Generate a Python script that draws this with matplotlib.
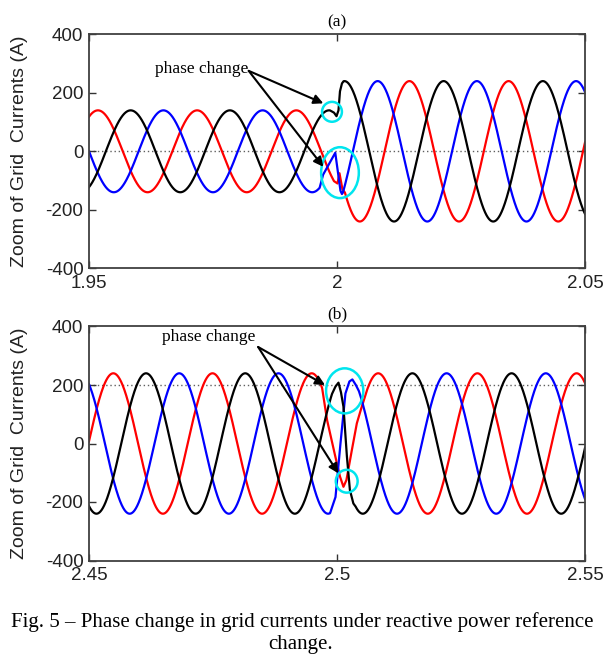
import numpy as np
import matplotlib
matplotlib.use("Agg")
import matplotlib.pyplot as plt
from matplotlib.patches import Ellipse

# ---------------- data ----------------
FREQ_HZ = 50.0
Y_TICKS = [-400, -200, 0, 200, 400]

# panel (a)
A_XLIM = [1.95, 2.05]
A_XTICKS = [1.95, 2.0, 2.05]
A_XTICKLABELS = ["1.95", "2", "2.05"]
A_REF_LINE = 0
# per phase: old amplitude, old peak time, old end, transient t, transient v,
#            new start, new amplitude, new peak time
A_RED_OLD = [140, 1.9518, 1.9994]
A_RED_TR_T = [2.0001, 2.0005, 2.0011]
A_RED_TR_V = [-110, -75, -130]
A_RED_NEW = [2.0016, 240, 2.0146]

A_BLK_OLD = [140, 1.9584, 1.9986]
A_BLK_TR_T = [1.9994, 1.9999, 2.0003, 2.0006, 2.0010]
A_BLK_TR_V = [132, 120, 140, 205, 232]
A_BLK_NEW = [2.0013, 240, 2.0015]

A_BLU_OLD = [140, 1.9650, 1.9965]
A_BLU_TR_T = [1.9972, 1.9985, 1.99965, 2.0007, 2.0010]
A_BLU_TR_V = [-80, -40, -5, -135, -146]
A_BLU_NEW = [2.0012, 240, 2.0082]

# panel (b)
B_XLIM = [2.45, 2.55]
B_XTICKS = [2.45, 2.5, 2.55]
B_XTICKLABELS = ["2.45", "2.5", "2.55"]
B_REF_LINE = 200

B_RED_OLD = [240, 2.4949, 2.4970]
B_RED_TR_T = [2.4980, 2.4990, 2.4996, 2.5006, 2.5013, 2.5019, 2.5030, 2.5040, 2.5048]
B_RED_TR_V = [80, 5, -40, -113, -148, -125, -22, 69, 115]
B_RED_NEW = [2.5056, 240, 2.5083]

B_BLK_OLD = [240, 2.4615, 2.4990]
B_BLK_TR_T = [2.4997, 2.5003, 2.5008, 2.5013, 2.5020, 2.5026, 2.5033]
B_BLK_TR_V = [195, 208, 175, 126, -45, -159, -205]
B_BLK_NEW = [2.5037, 240, 2.5152]

B_BLU_OLD = [240, 2.4482, 2.4986]
B_BLU_TR_T = [2.4997, 2.5007, 2.5017, 2.5025, 2.5031, 2.5038]
B_BLU_TR_V = [-183, 0, 171, 212, 219, 200]
B_BLU_NEW = [2.5044, 240, 2.5021]

# annotations: text anchor (right edge), arrow tail, arrow heads, circles (center, w, h)
A_TEXT = [1.9821, 283]
A_TAIL = [1.9822, 275]
A_HEADS = [[1.99724, 164], [1.99724, -53]]
A_CIRCLES = [[1.99899, 135, 0.0040, 68], [2.00060, -73, 0.0076, 174]]

B_TEXT = [2.4836, 364]
B_TAIL = [2.4841, 330]
B_HEADS = [[2.49758, 200], [2.50026, -102]]
B_CIRCLES = [[2.50155, 180, 0.0075, 154], [2.50196, -129, 0.0044, 78]]

LABEL = "phase change"
YLABEL = "Zoom of Grid  Currents (A)"
TITLES = ["(a)", "(b)"]
CAPTION_1 = "Fig. 5 \u2013 Phase change in grid currents under reactive power reference"
CAPTION_2 = "change."


def wave(t, old, tr_t, tr_v, new):
    amp0, pk0, end0 = old
    start1, amp1, pk1 = new
    w = 2 * np.pi * FREQ_HZ
    t0 = t[t <= end0]
    t1 = t[t >= start1]
    v0 = amp0 * np.cos(w * (t0 - pk0))
    v1 = amp1 * np.cos(w * (t1 - pk1))
    tt = np.concatenate([t0, np.asarray(tr_t), t1])
    vv = np.concatenate([v0, np.asarray(tr_v), v1])
    return tt, vv


serif = ["Liberation Serif", "DejaVu Serif"]
sans = ["Liberation Sans", "DejaVu Sans"]

fig = plt.figure(figsize=(6.05, 6.59), dpi=100)
W, H = 605.0, 659.0
pos_a = [89 / W, 1 - 268.3 / H, 496 / W, 234 / H]
pos_b = [89 / W, 1 - 560.5 / H, 496 / W, 234 / H]

panels = [
    (pos_a, A_XLIM, A_XTICKS, A_XTICKLABELS, A_REF_LINE,
     [(A_RED_OLD, A_RED_TR_T, A_RED_TR_V, A_RED_NEW, "#ff0000"),
      (A_BLU_OLD, A_BLU_TR_T, A_BLU_TR_V, A_BLU_NEW, "#0000ff"),
      (A_BLK_OLD, A_BLK_TR_T, A_BLK_TR_V, A_BLK_NEW, "#000000")],
     A_TEXT, A_TAIL, A_HEADS, A_CIRCLES, TITLES[0]),
    (pos_b, B_XLIM, B_XTICKS, B_XTICKLABELS, B_REF_LINE,
     [(B_RED_OLD, B_RED_TR_T, B_RED_TR_V, B_RED_NEW, "#ff0000"),
      (B_BLU_OLD, B_BLU_TR_T, B_BLU_TR_V, B_BLU_NEW, "#0000ff"),
      (B_BLK_OLD, B_BLK_TR_T, B_BLK_TR_V, B_BLK_NEW, "#000000")],
     B_TEXT, B_TAIL, B_HEADS, B_CIRCLES, TITLES[1]),
]

for (pos, xlim, xt, xtl, refy, waves, txt, tail, heads, circles, title) in panels:
    ax = fig.add_axes(pos)
    t = np.linspace(xlim[0], xlim[1], 4001)
    ax.axhline(refy, color="#606060", lw=1.0, ls=(0, (1, 2)), zorder=1)
    for old, trt, trv, new, col in waves:
        tt, vv = wave(t, old, trt, trv, new)
        ax.plot(tt, vv, color=col, lw=1.6, zorder=2)
    for cx, cy, cw, ch in circles:
        ax.add_patch(Ellipse((cx, cy), cw, ch, fill=False, edgecolor="#00e5ee",
                             lw=1.8, zorder=4))
    ax.text(txt[0], txt[1], LABEL, ha="right", va="center", fontsize=12.5,
            family=serif, zorder=5)
    for hx, hy in heads:
        ax.annotate("", xy=(hx, hy), xytext=(tail[0], tail[1]),
                    arrowprops=dict(arrowstyle="-|>", color="black", lw=1.5,
                                    mutation_scale=14, shrinkA=0, shrinkB=0),
                    zorder=5)
    ax.set_xlim(xlim)
    ax.set_ylim(-400, 400)
    ax.set_xticks(xt)
    ax.set_xticklabels(xtl)
    ax.set_yticks(Y_TICKS)
    ax.set_yticklabels([str(v) for v in Y_TICKS])
    ax.tick_params(direction="in", length=5, width=1, top=True, right=True,
                   labelsize=13.5, colors="#333333", labelcolor="#222222")
    ax.tick_params(axis="x", pad=5)
    ax.tick_params(axis="y", pad=4)
    for lab in ax.get_xticklabels() + ax.get_yticklabels():
        lab.set_family(sans)
    for s in ax.spines.values():
        s.set_color("#404040")
        s.set_linewidth(1.3)
    ax.set_ylabel(YLABEL, fontsize=14, family=sans, color="#222222")
    ax.yaxis.set_label_coords(-0.122, 0.5)
    ax.set_title(title, fontsize=12.5, family=serif, pad=6)

fig.text(0.4995, 1 - 622 / H, CAPTION_1, ha="center", va="center",
         fontsize=15, family=serif)
fig.text(0.497, 1 - 645 / H, CAPTION_2, ha="center", va="center",
         fontsize=15, family=serif)

fig.savefig("out.png", dpi=100)
